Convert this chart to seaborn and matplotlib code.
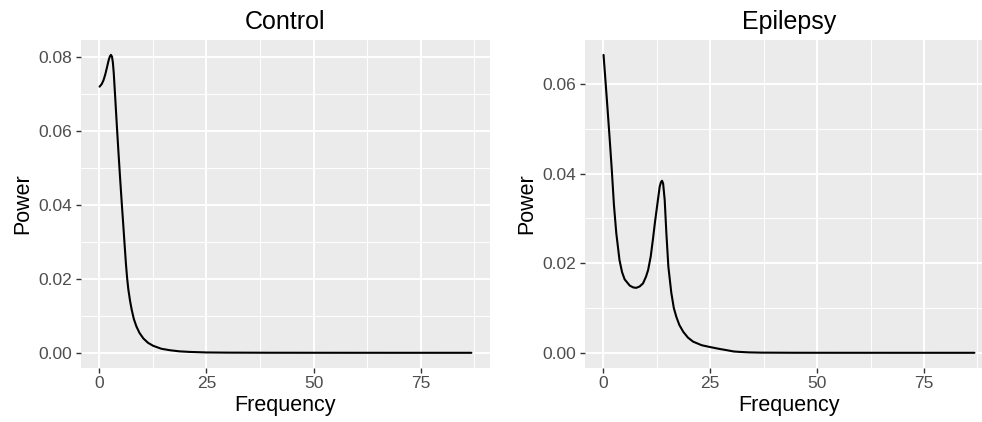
import matplotlib
matplotlib.use("Agg")
import matplotlib.pyplot as plt
from matplotlib.ticker import MultipleLocator, FormatStrFormatter
import numpy as np
import pandas as pd
import seaborn as sns

# Power spectra of two EEG recordings (frequency in Hz)
control_freq = [0.1, 0.6, 1.0, 1.4, 1.8, 2.2, 2.5, 2.75, 3.0, 3.2, 3.4, 3.7,
                4.1, 4.5, 4.9, 5.3, 5.6, 5.95, 6.25, 6.5, 6.8, 7.2, 7.6, 8.1,
                8.7, 9.4, 10.3, 11.4, 12.6, 14.5, 16.5, 18.7, 21.0, 25.0,
                30.0, 40.0, 55.0, 70.0, 86.8]
control_power = [0.0721, 0.0728, 0.0738, 0.0753, 0.0772, 0.0792, 0.0803, 0.0807,
                 0.0802, 0.0786, 0.0758, 0.0700, 0.0620, 0.0543, 0.0470, 0.0400,
                 0.0350, 0.0290, 0.0240, 0.0205, 0.0172, 0.0141, 0.0116, 0.0091,
                 0.0071, 0.0054, 0.0039, 0.0027, 0.0019, 0.0011, 0.0007, 0.0004,
                 0.00025, 0.0001, 0.00005, 0.00002, 0.00001, 0.000005, 0.000003]

epilepsy_freq = [0.07, 0.5, 1.0, 1.5, 2.0, 2.5, 3.05, 3.8, 4.4, 5.0, 6.2, 7.0,
                 7.7, 8.5, 9.3, 10.0, 10.5, 11.1, 11.6, 12.1, 12.6, 13.2, 13.5,
                 13.75, 14.0, 14.37, 14.76, 15.23, 15.9, 16.5, 17.1, 17.8, 18.7,
                 19.8, 21.0, 23.0, 24.9, 27.0, 28.8, 30.5, 32.0, 34.0, 37.0,
                 45.0, 60.0, 86.8]
epilepsy_power = [0.0665, 0.0610, 0.0545, 0.0478, 0.0408, 0.0330, 0.0267, 0.0207,
                  0.0180, 0.0164, 0.0150, 0.0146, 0.0145, 0.0148, 0.0155, 0.0170,
                  0.0185, 0.0215, 0.0252, 0.0292, 0.0328, 0.0371, 0.0381, 0.0384,
                  0.0378, 0.0341, 0.0267, 0.0192, 0.0135, 0.0100, 0.0080, 0.0062,
                  0.0047, 0.0034, 0.0025, 0.0017, 0.0013, 0.0009, 0.0006, 0.0003,
                  0.0002, 0.0001, 0.00004, 0.00001, 0.000005, 0.000002]

panel_titles = ["Control", "Epilepsy"]
x_ticks = [0, 25, 50, 75]

sns.set_theme(style="darkgrid", rc={
    "axes.facecolor": "#EBEBEB",
    "figure.facecolor": "white",
    "grid.color": "white",
})
plt.rcParams["font.family"] = ["Liberation Sans", "DejaVu Sans"]

fig = plt.figure(figsize=(9.82, 4.22), dpi=100)
ax_c = fig.add_axes([81 / 982, 54.3 / 422, 409 / 982, 327.7 / 422])
ax_e = fig.add_axes([585 / 982, 54.3 / 422, 408 / 982, 327.7 / 422])

panels = [
    (ax_c, control_freq, control_power, panel_titles[0]),
    (ax_e, epilepsy_freq, epilepsy_power, panel_titles[1]),
]

for ax, freq, power, title in panels:
    df = pd.DataFrame({"Frequency": freq, "Power": power})
    sns.lineplot(data=df, x="Frequency", y="Power", ax=ax, color="black",
                 linewidth=1.5, estimator=None, sort=False)

    # ggplot-style 5% expansion on both axes
    xr = max(freq) - min(freq)
    yr = max(power) - min(power)
    ax.set_xlim(min(freq) - 0.05 * xr, max(freq) + 0.05 * xr)
    ax.set_ylim(min(power) - 0.05 * yr, max(power) + 0.05 * yr)

    ax.set_xticks(x_ticks)
    ax.xaxis.set_minor_locator(MultipleLocator(12.5))
    ax.yaxis.set_major_locator(MultipleLocator(0.02))
    ax.yaxis.set_minor_locator(MultipleLocator(0.01))
    ax.yaxis.set_major_formatter(FormatStrFormatter("%.2f"))

    ax.grid(which="major", color="white", linewidth=1.4)
    ax.grid(which="minor", color="white", linewidth=0.7)
    ax.set_axisbelow(True)
    for s in ax.spines.values():
        s.set_visible(False)

    ax.tick_params(which="major", length=3.6, width=1.0, color="#333333",
                   labelsize=12.5, labelcolor="#4D4D4D", pad=2.5,
                   bottom=True, left=True)
    ax.tick_params(which="minor", length=0)

    ax.set_title(title, fontsize=18, pad=8, color="black")
    ax.set_xlabel("Frequency", fontsize=15.5, labelpad=3, color="black")
    ax.set_ylabel("Power", fontsize=15.5, labelpad=4, color="black")

fig.savefig("out.png", dpi=100)
